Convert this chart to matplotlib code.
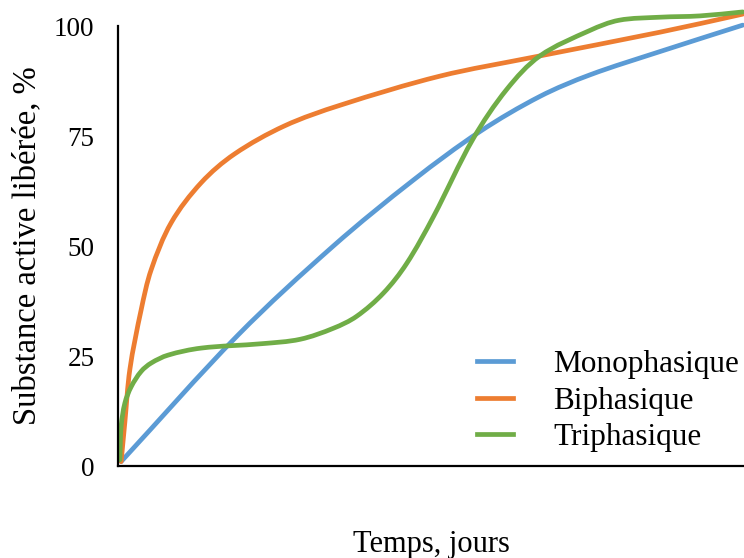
import math

import matplotlib.pyplot as plt
from matplotlib.lines import Line2D
from matplotlib.patches import PathPatch
from matplotlib.path import Path


# time axis, arbitrary units (0 = start, 100 = right edge)
TIME_MONO = [0.5, 19.2, 34.4, 47.2, 57.8, 67.4, 75.4, 86.6, 99.8]
RELEASE_MONO = [1.0, 29.8, 50.0, 65.0, 76.0, 84.0, 88.9, 94.2, 100.2]

TIME_BI = [0.5, 1.1, 1.9, 3.7, 5.3, 8.5, 13.3, 18.6, 26.6, 35.5, 51.4, 66.3, 86.6, 99.8]
RELEASE_BI = [1.0, 10.0, 22.0, 35.5, 44.6, 55.3, 64.4, 70.9, 77.3, 82.0, 88.6, 92.9, 98.6, 102.7]

TIME_TRI = [0.3, 0.5, 1.1, 2.1, 3.7, 5.3, 8.0, 13.3, 23.0, 29.1, 34.4, 38.1, 42.4, 46.1, 50.4, 56.7, 62.1, 67.4, 75.4, 80.0, 86.6, 93.0, 99.8]
RELEASE_TRI = [1.4, 9.0, 14.3, 18.0, 21.5, 23.4, 25.2, 26.8, 27.8, 28.8, 31.3, 34.0, 39.3, 46.0, 56.7, 74.3, 85.6, 93.2, 99.0, 101.3, 102.0, 102.3, 103.2]

Y_TICKS = [0, 25, 50, 75, 100]

SERIES = [
    ("Monophasique", TIME_MONO, RELEASE_MONO, "#5B9BD5"),
    ("Biphasique", TIME_BI, RELEASE_BI, "#ED7D31"),
    ("Triphasique", TIME_TRI, RELEASE_TRI, "#70AD47"),
]

# rough pixels per data unit, so the smoothing works in screen proportions
SX = 6.26
SY = 4.4


def smooth_path(
    xs: list[float],
    ys: list[float],
) -> Path:
    """
    Bezier path through the points, tangents from neighbours
    and handle length from the segment length (like Excel smoothing).
    """

    pts = [(x * SX, y * SY) for x, y in zip(xs, ys)]
    n = len(pts)

    tangents = []
    for i in range(n):
        a = pts[max(i - 1, 0)]
        b = pts[min(i + 1, n - 1)]
        dx = b[0] - a[0]
        dy = b[1] - a[1]
        norm = math.hypot(dx, dy) or 1.0
        tangents.append((dx / norm, dy / norm))

    verts = [pts[0]]
    codes = [Path.MOVETO]

    for i in range(n - 1):
        p1 = pts[i]
        p2 = pts[i + 1]
        seg = math.hypot(p2[0] - p1[0], p2[1] - p1[1]) / 3

        c1 = (
            p1[0] + tangents[i][0] * seg,
            p1[1] + tangents[i][1] * seg,
        )
        c2 = (
            p2[0] - tangents[i + 1][0] * seg,
            p2[1] - tangents[i + 1][1] * seg,
        )

        verts.extend([c1, c2, p2])
        codes.extend([Path.CURVE4] * 3)

    verts = [(x / SX, y / SY) for x, y in verts]

    return Path(verts, codes)


def plot_release() -> None:
    """
    Draw the release profiles and save out.png.
    """

    plt.rcParams["font.family"] = ["Liberation Serif", "DejaVu Serif"]

    fig = plt.figure(
        figsize=(7.44, 5.58),
        dpi=100,
    )

    ax = fig.add_axes(
        [118 / 744, 92 / 558, 626 / 744, 440 / 558]
    )

    handles = []

    for label, t, r, color in SERIES:
        patch = PathPatch(
            smooth_path(t, r),
            facecolor="none",
            edgecolor=color,
            linewidth=3.4,
            capstyle="round",
            clip_on=False,
        )
        ax.add_patch(patch)

        handles.append(
            Line2D([], [], color=color, linewidth=3.4, label=label)
        )

    ax.set_xlim(0, 100)
    ax.set_ylim(0, 100)

    ax.set_yticks(Y_TICKS)
    ax.set_xticks([])

    ax.tick_params(
        axis="y",
        length=0,
        pad=17,
        labelsize=19.5,
    )

    for side in ("top", "right"):
        ax.spines[side].set_visible(False)

    for side in ("left", "bottom"):
        ax.spines[side].set_linewidth(1.6)
        ax.spines[side].set_color("black")

    ax.set_ylabel(
        "Substance active libérée, %",
        fontsize=23.5,
        labelpad=8,
    )

    ax.set_xlabel(
        "Temps, jours",
        fontsize=22,
        labelpad=46,
    )

    ax.legend(
        handles=handles,
        loc="upper left",
        bbox_to_anchor=(477 / 744, 1 - 350 / 558),
        bbox_transform=fig.transFigure,
        frameon=False,
        fontsize=22.5,
        handlelength=1.15,
        handletextpad=1.3,
        labelspacing=0.24,
        borderpad=0,
        borderaxespad=0,
    )

    fig.savefig(
        "out.png",
        dpi=100,
    )

    plt.close(fig)


plot_release()
